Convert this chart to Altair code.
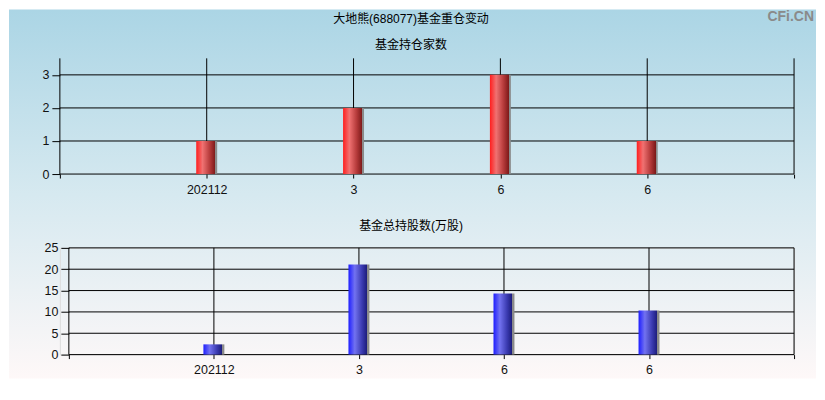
import altair as alt
import pandas as pd

# ---- data ----
categories = ["202112", "3", "6", "6"]
fund_count = [1, 2, 3, 1]
fund_shares = [2.4, 21.1, 14.3, 10.35]
count_ticks = [0, 1, 2, 3]
share_ticks = [0, 5, 10, 15, 20, 25]
count_max = 3.5
share_max = 25
main_title = "大地熊(688077)基金重仓变动"
top_title = "基金持仓家数"
bottom_title = "基金总持股数(万股)"
watermark = "CFi.CN"

pos = list(range(1, len(categories) + 1))
edges = list(range(0, len(categories) + 2))
top_df = pd.DataFrame({"pos": pos, "val": fund_count, "cat": categories})
bot_df = pd.DataFrame({"pos": pos, "val": fund_shares, "cat": categories})
one = pd.DataFrame({"k": [0]})

label_expr = " : ".join(f"datum.value == {p} ? '{c}'" for p, c in zip(pos, categories)) + " : ''"

W = 736
H1 = 116
H2 = 107
NUM_FONT = "Liberation Sans"
CJK_FONT = "'Liberation Sans', 'Noto Sans CJK SC'"

x_top = alt.Scale(domain=[0, edges[-1]], nice=False, zero=False, padding=0)
d0 = -9 * edges[-1] / (W - 9)
x_bot = alt.Scale(domain=[d0, edges[-1]], nice=False, zero=False, padding=0)
y_top = alt.Scale(domain=[0, count_max], nice=False, padding=0)
y_bot = alt.Scale(domain=[0, share_max], nice=False, padding=0)

bg_grad = alt.LinearGradient(
    gradient="linear", x1=0, x2=0, y1=0, y2=1,
    stops=[
        alt.GradientStop(color="#abd5e5", offset=0),
        alt.GradientStop(color="#d6e9f0", offset=0.5),
        alt.GradientStop(color="#fef8f8", offset=1),
    ],
)
red_grad = alt.LinearGradient(
    gradient="linear", x1=0, x2=1, y1=0, y2=0,
    stops=[
        alt.GradientStop(color="#ff1e1e", offset=0),
        alt.GradientStop(color="#f07272", offset=0.3),
        alt.GradientStop(color="#b53a3a", offset=0.65),
        alt.GradientStop(color="#7e1a1a", offset=0.9),
        alt.GradientStop(color="#8a8a8a", offset=0.9),
        alt.GradientStop(color="#8a8a8a", offset=1),
    ],
)
blue_grad = alt.LinearGradient(
    gradient="linear", x1=0, x2=1, y1=0, y2=0,
    stops=[
        alt.GradientStop(color="#1e1eff", offset=0),
        alt.GradientStop(color="#7272f0", offset=0.3),
        alt.GradientStop(color="#3a3ab0", offset=0.65),
        alt.GradientStop(color="#1a1a78", offset=0.9),
        alt.GradientStop(color="#8a8a8a", offset=0.9),
        alt.GradientStop(color="#8a8a8a", offset=1),
    ],
)


def x_axis():
    return alt.Axis(values=edges, labelExpr=label_expr, domain=False, grid=False,
                    ticks=True, tickSize=4, tickColor="black", labelPadding=5,
                    title=None, labelFont=NUM_FONT, labelFontSize=12.5,
                    labelColor="#111111", labelFlush=False, labelOverlap=False,
                    zindex=2)


def y_axis(vals, off):
    return alt.Axis(values=vals, domain=False, grid=False, ticks=True, tickSize=8,
                    tickColor="black", labelPadding=3, title=None, offset=off,
                    labelFont=NUM_FONT, labelFontSize=12.5, labelColor="#111111",
                    labelOverlap=False, zindex=2)


def panel(df, ticks, xs, ys, grad, yoff, ymax):
    xa = x_axis()
    ya = y_axis(ticks, yoff)
    hgrid = alt.Chart(pd.DataFrame({"v": ticks})).mark_rule(color="black", strokeWidth=1).encode(
        y=alt.Y("v:Q", scale=ys, axis=ya),
        x=alt.X(datum=0, type="quantitative", scale=xs, axis=xa),
        x2=alt.datum(edges[-1]),
    )
    vgrid = alt.Chart(pd.DataFrame({"e": edges})).mark_rule(color="black", strokeWidth=1).encode(
        x=alt.X("e:Q", scale=xs, axis=xa),
        y=alt.Y(datum=0, type="quantitative", scale=ys, axis=ya),
        y2=alt.datum(ymax),
    )
    bars = alt.Chart(df).mark_bar(width=21, fill=grad).encode(
        x=alt.X("pos:Q", scale=xs, axis=xa),
        y=alt.Y("val:Q", scale=ys, axis=ya),
    )
    return hgrid, vgrid, bars


# background covers the whole drawing: 809 x 370 px
bg = alt.Chart(one).mark_rect(fill=bg_grad).encode(
    x=alt.value(-51), x2=alt.value(758), y=alt.value(-49), y2=alt.value(321)
)
t_main = alt.Chart(one).mark_text(text=main_title, font=CJK_FONT, fontSize=12,
                                  align="center", baseline="middle", color="black").encode(
    x=alt.value(352), y=alt.value(-39))
t_top = alt.Chart(one).mark_text(text=top_title, font=CJK_FONT, fontSize=12,
                                 align="center", baseline="middle", color="black").encode(
    x=alt.value(352), y=alt.value(-13.5))
t_wm = alt.Chart(one).mark_text(text=watermark, font=NUM_FONT, fontWeight="bold", fontSize=14,
                                align="right", baseline="top", color="#8a8a8a").encode(
    x=alt.value(756), y=alt.value(-48))
t_bot = alt.Chart(one).mark_text(text=bottom_title, font=CJK_FONT, fontSize=12,
                                 align="center", baseline="middle", color="black").encode(
    x=alt.value(352), y=alt.value(-22))

h1, v1, b1 = panel(top_df, count_ticks, x_top, y_top, red_grad, 0, count_max)
h2, v2, b2 = panel(bot_df, share_ticks, x_bot, y_bot, blue_grad, -9, share_max)

top = alt.layer(bg, t_main, t_top, t_wm, h1, v1, b1).properties(width=W, height=H1)
bottom = alt.layer(t_bot, h2, v2, b2).properties(width=W, height=H2)

chart = alt.vconcat(top, bottom, spacing=74, bounds="flush").properties(
    padding=0
).configure_view(stroke="transparent").configure(background="white")

chart.save("out.html", embed_options={"renderer": "svg", "actions": False})
